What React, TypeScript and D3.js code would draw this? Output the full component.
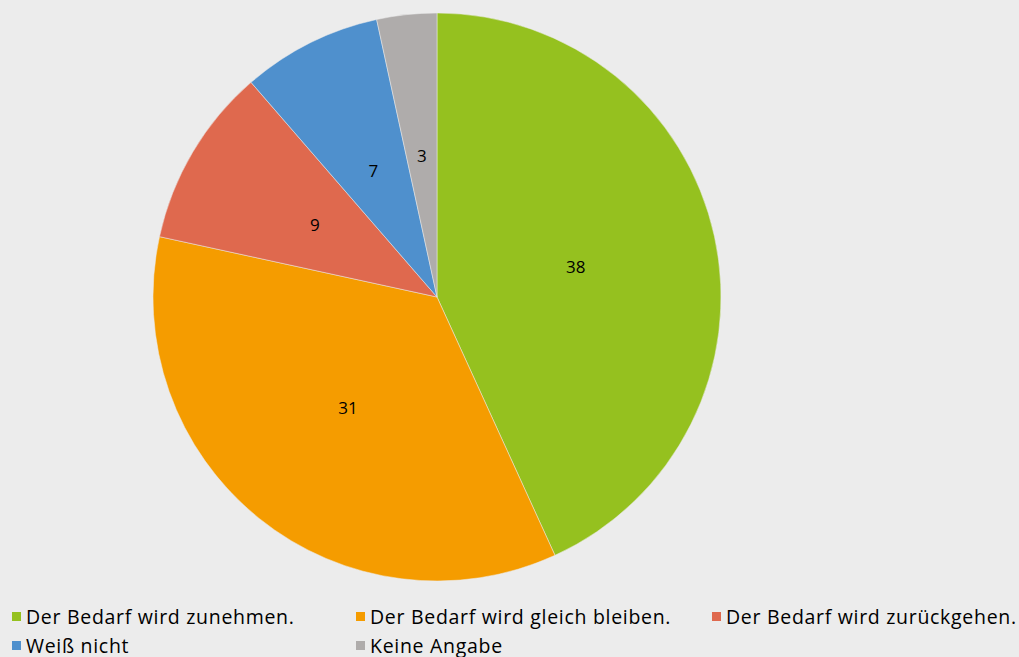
import React from 'react';
import * as d3 from 'd3';

const categories = [
  'Der Bedarf wird zunehmen.',
  'Der Bedarf wird gleich bleiben.',
  'Der Bedarf wird zurückgehen.',
  'Weiß nicht',
  'Keine Angabe',
];
const values = [38, 31, 9, 7, 3];
const colors = ['#95c11f', '#f59c00', '#df694e', '#4f90cd', '#afacab'];

const W = 1019, H = 657;
const cx = 437, cy = 297, r = 284;

export default function App() {
  const pie = d3.pie<number>().sort(null).value(d => d)(values);
  const arc = d3.arc<d3.PieArcDatum<number>>().innerRadius(0).outerRadius(r);
  const labelArc = d3.arc<d3.PieArcDatum<number>>().innerRadius(r * 0.5).outerRadius(r * 0.5);

  // legend: 3 columns, 2 rows
  const colX = [12, 356, 712];
  const rowY = [616, 645];

  return (
    <svg width={W} height={H} style={{ position: 'absolute', left: 0, top: 0, background: '#ececec' }}
      fontFamily="'Open Sans', 'Noto Sans', sans-serif">
      <rect width={W} height={H} fill="#ececec" />
      <g transform={`translate(${cx},${cy})`}>
        {pie.map((p, i) => (
          <path key={i} d={arc(p) || ''} fill={colors[i]} stroke="#ececec" strokeWidth={0.5} />
        ))}
        {pie.map((p, i) => {
          const [x, y] = labelArc.centroid(p);
          return (
            <text key={i} x={x} y={y} textAnchor="middle" dominantBaseline="central" fontSize={17} fill="#000">
              {values[i]}
            </text>
          );
        })}
      </g>
      {categories.map((c, i) => {
        const x = colX[i % 3];
        const y = rowY[Math.floor(i / 3)];
        return (
          <g key={c}>
            <rect x={x} y={y - 4} width={9} height={9} fill={colors[i]} />
            <text x={x + 14} y={y} dominantBaseline="central" fontSize={19.5} fill="#000" letterSpacing={0.7}>
              {c}
            </text>
          </g>
        );
      })}
    </svg>
  );
}
